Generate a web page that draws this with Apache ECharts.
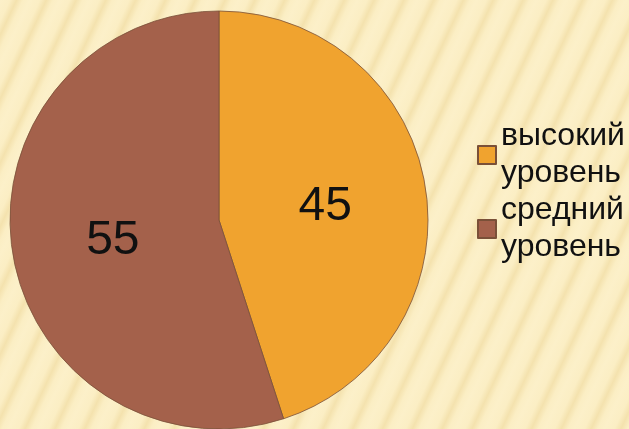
<!DOCTYPE html>
<html>
<head>
<meta charset="utf-8">
<script src="https://cdn.jsdelivr.net/npm/echarts@6/dist/echarts.min.js"></script>
<style>
html,body{margin:0;padding:0;width:629px;height:429px;overflow:hidden;}
body{background:#fbeec3;background-image:repeating-linear-gradient(115deg,#fcf0c9 0px,#fbeec4 9px,#f4e2ae 15px,#fbeec4 21px,#fcf0c9 27px);}
#c{width:629px;height:429px;}
</style>
</head>
<body>
<div id="c"></div>
<script>
var categories = ["высокий уровень", "средний уровень"];
var values = [45, 55];
var colors = ["#f0a32f", "#a4614b"];

var chart = echarts.init(document.getElementById('c'), null, {renderer: 'canvas'});
chart.setOption({
  backgroundColor: 'transparent',
  animation: false,
  legend: {
    orient: 'vertical',
    left: 472,
    top: 113,
    itemWidth: 18,
    itemHeight: 18,
    itemGap: 0,
    icon: 'rect',
    data: categories,
    formatter: function (n) { return n.replace(' ', '\n'); },
    textStyle: {fontFamily: 'Liberation Sans, Arial, sans-serif', fontSize: 32, lineHeight: 37, color: '#111'}
  },
  series: [{
    type: 'pie',
    center: [219, 220],
    radius: 209,
    startAngle: 90,
    clockwise: true,
    itemStyle: {borderColor: '#7a5038', borderWidth: 0.8},
    label: {
      show: true,
      position: 'inside',
      formatter: '{c}',
      fontFamily: 'Liberation Sans, Arial, sans-serif',
      fontSize: 48,
      color: '#111',
      offset: [0, 4]
    },
    labelLine: {show: false},
    emphasis: {disabled: true},
    data: categories.map(function (c, i) {
      return {name: c, value: values[i], itemStyle: {color: colors[i]}};
    })
  }]
});
</script>
</body>
</html>
